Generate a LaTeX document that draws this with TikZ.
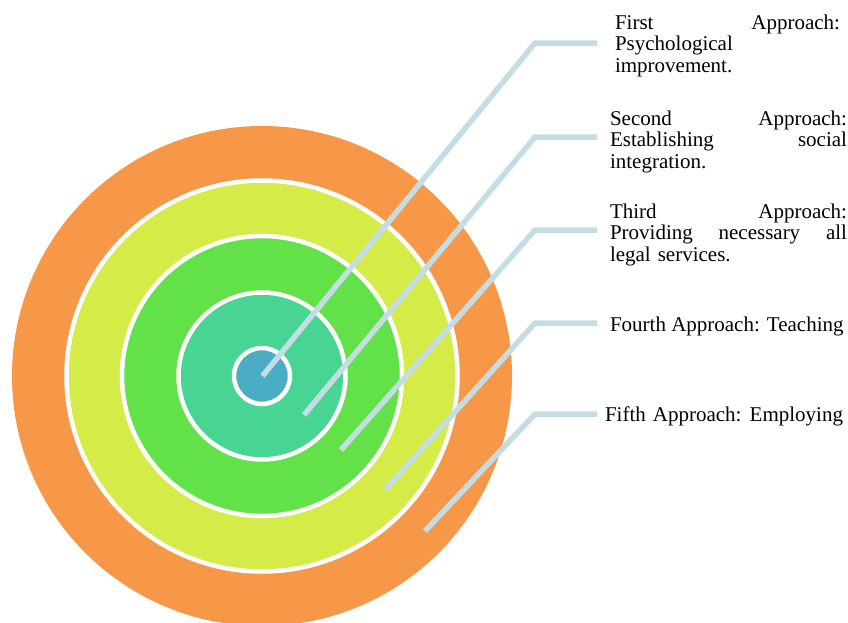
\documentclass[tikz,border=0pt]{standalone}
\usepackage{fontspec}
\setmainfont{Liberation Serif}
\definecolor{orangec}{HTML}{F79848}
\definecolor{yellowc}{HTML}{D5EB48}
\definecolor{greenc}{HTML}{62E148}
\definecolor{tealc}{HTML}{48D493}
\definecolor{bluec}{HTML}{4BACC6}
\definecolor{leadc}{HTML}{C4DDE4}
\begin{document}
\begin{tikzpicture}[x=1pt,y=-1pt,
  disc/.style={circle, inner sep=0pt, outer sep=0pt},
  ring/.style={disc, draw=white, line width=4.5pt},
  leader/.style={draw=leadc, line width=5.5pt},
  apptext/.style={anchor=base west, inner sep=0pt, outer sep=0pt,
    font=\fontsize{21}{21.5}\selectfont, align=left}
]
\useasboundingbox (0,0) rectangle (848,622);
\clip (0,0) rectangle (848,622);

% concentric target
\node[disc, fill=orangec, minimum size=500pt] (r5) at (262,376) {};
\node[ring, fill=yellowc, minimum size=391pt] (r4) at (262,376) {};
\node[ring, fill=greenc, minimum size=280pt] (r3) at (262,376) {};
\node[ring, fill=tealc, minimum size=167pt] (r2) at (262,376) {};
\node[ring, fill=bluec, minimum size=56pt] (r1) at (262,376) {};

% leader line points
\coordinate (e1) at (262.5,376);
\coordinate (b1) at (535,43);
\coordinate (h1) at (597,43);
\coordinate (e2) at (304,415);
\coordinate (b2) at (535,137);
\coordinate (h2) at (597,137);
\coordinate (e3) at (341,450);
\coordinate (b3) at (535,230);
\coordinate (h3) at (597,230);
\coordinate (e4) at (385,490);
\coordinate (b4) at (535,323);
\coordinate (h4) at (597,323);
\coordinate (e5) at (425,531);
\coordinate (b5) at (535,414);
\coordinate (h5) at (597,414);

\draw[leader] (e1) -- (b1) -- (h1);
\draw[leader] (e2) -- (b2) -- (h2);
\draw[leader] (e3) -- (b3) -- (h3);
\draw[leader] (e4) -- (b4) -- (h4);
\draw[leader] (e5) -- (b5) -- (h5);

% approach labels
\node[apptext, text width=225pt] (t1) at (615,29.3)
  {First\hfill Approach:\\Psychological\\improvement.};
\node[apptext, text width=237pt] (t2) at (610,125)
  {Second\hfill Approach:\\Establishing\hfill social\\integration.};
\node[apptext, text width=237pt] (t3) at (610,218.3)
  {Third\hfill Approach:\\Providing\hfill necessary\hfill all\\legal services.};
\node[apptext] (t4) at (610,331) {Fourth Approach: Teaching};
\node[apptext, text width=238pt] (t5) at (605,421) {Fifth Approach:\hfill Employing};
\end{tikzpicture}
\end{document}
